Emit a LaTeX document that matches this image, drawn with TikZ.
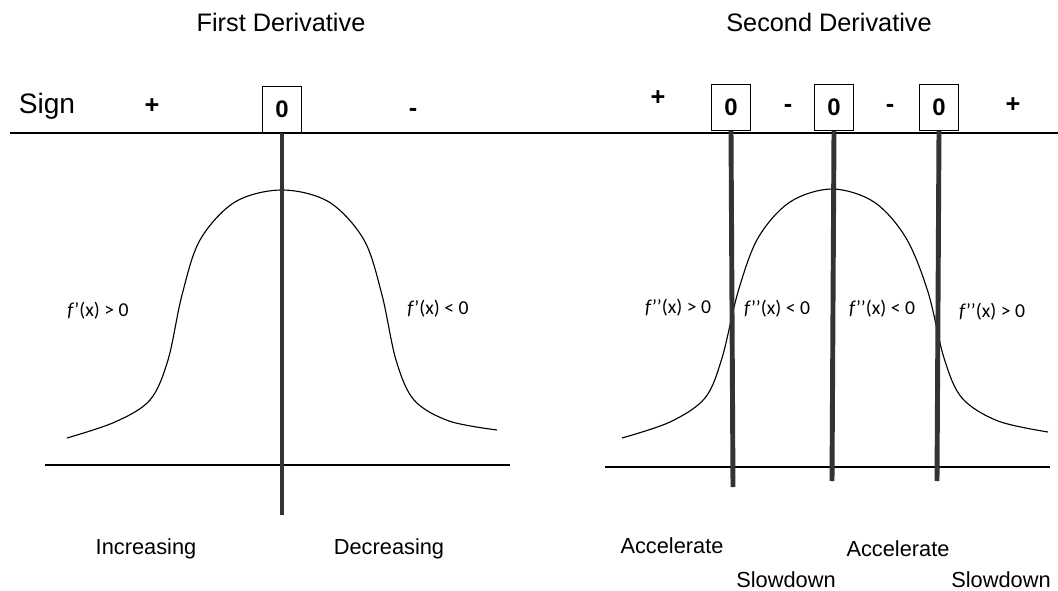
\documentclass[tikz,border=0pt]{standalone}
\usepackage{fontspec}
\setmainfont{Liberation Sans}
\newfontfamily\calibri{Carlito}
\usetikzlibrary{positioning}

\tikzset{
  signbox/.style={draw, line width=0.7pt, fill=white, minimum width=28pt, minimum height=33pt, inner sep=0pt, font=\fontsize{17}{20}\selectfont\bfseries, anchor=south},
  signmark/.style={font=\fontsize{18}{21}\selectfont\bfseries},
  zeroline/.style={line width=3.5pt, draw=black!80},
  deriv/.style={font=\calibri\fontsize{14}{16}\selectfont},
  caption/.style={font=\fontsize{15.5}{18}\selectfont},
  bell/.style={line width=0.8pt},
}

\begin{document}
\begin{tikzpicture}[x=0.025cm, y=-0.025cm]
\useasboundingbox (0,0) rectangle (1058,591);

% Titles
\node[font=\fontsize{18}{22}\selectfont] (title1) at (281,22) {First Derivative};
\node[font=\fontsize{18}{22}\selectfont] (title2) at (829,22) {Second Derivative};

% Sign axis
\node[font=\fontsize{20}{24}\selectfont] (sign) at (47,106) {Sign};
\coordinate (axisL) at (10,133);
\coordinate (axisR) at (1058,133);
\draw[line width=1pt] (axisL) -- (axisR);

% Base lines
\coordinate (baseL1) at (45,465);
\coordinate (baseR1) at (510,465);
\coordinate (baseL2) at (605,467);
\coordinate (baseR2) at (1050,467);
\draw[line width=1pt] (baseL1) -- (baseR1);
\draw[line width=1pt] (baseL2) -- (baseR2);

% Curves
\draw[bell] plot[smooth, tension=0.55] coordinates {(67,438) (115,422) (150,400) (168,360) (182,295) (200,240) (235,202) (282,190) (329,202) (364,240) (382,295) (396,360) (414,400) (449,421) (497,430)};
\draw[bell] plot[smooth, tension=0.55] coordinates {(622,438) (670,422) (705,398) (722,358) (738,292) (758,238) (790,202) (832,189) (874,202) (906,238) (928,292) (944,358) (962,398) (998,421) (1048,432)};

% First derivative signs
\node[signmark] (p1) at (152,106) {+};
\node[signmark] (m1) at (413,112) {-};
\node[signbox] (z1) at (282,133) {0};
\coordinate (z1end) at (282,515);
\draw[zeroline] (z1.south) -- (z1end);

% Second derivative signs
\node[signmark] (p2) at (658,98) {+};
\node[signmark] (m2) at (788,108) {-};
\node[signmark] (m3) at (890,108) {-};
\node[signmark] (p3) at (1013,105) {+};
\node[signbox] (z2) at (731,131) {0};
\node[signbox] (z3) at (834,131) {0};
\node[signbox] (z4) at (939,131) {0};
\coordinate (z2end) at (733,487);
\coordinate (z3end) at (832,481);
\coordinate (z4end) at (937,481);
\draw[zeroline] (z2.south) -- (z2end);
\draw[zeroline] (z3.south) -- (z3end);
\draw[zeroline] (z4.south) -- (z4end);

% Derivative labels
\node[deriv] (d1) at (98,311) {\textit{f}’(x) > 0};
\node[deriv] (d2) at (438,309) {\textit{f}’(x) < 0};
\node[deriv] (d3) at (678,308) {\textit{f}’’(x) > 0};
\node[deriv] (d4) at (777,309) {\textit{f}’’(x) < 0};
\node[deriv] (d5) at (882,309) {\textit{f}’’(x) < 0};
\node[deriv] (d6) at (992,312) {\textit{f}’’(x) > 0};

% Captions
\node[caption] (inc) at (146,549) {Increasing};
\node[caption] (dec) at (389,549) {Decreasing};
\node[caption] (acc1) at (672,546) {Accelerate};
\node[caption] (slow1) at (786,580) {Slowdown};
\node[caption] (acc2) at (898,549) {Accelerate};
\node[caption] (slow2) at (1001,580) {Slowdown};
\end{tikzpicture}
\end{document}
